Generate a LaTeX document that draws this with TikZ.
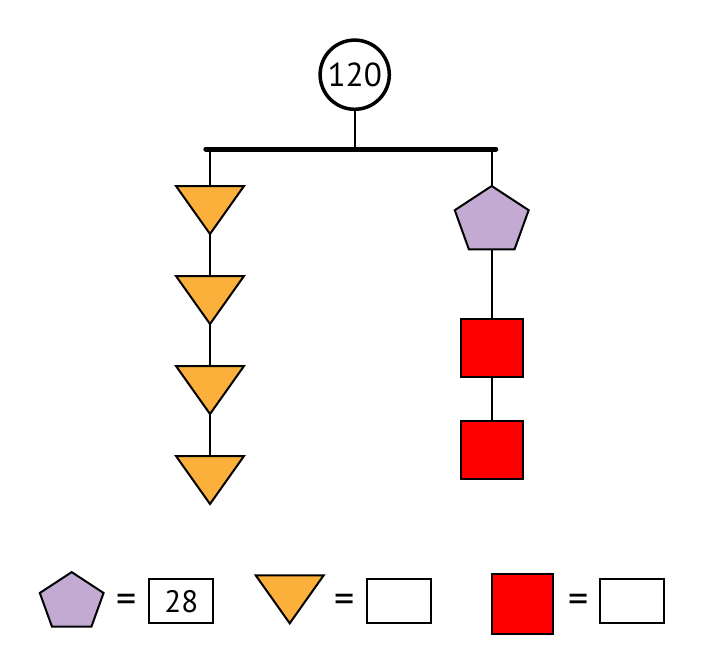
\documentclass[tikz,border=0pt]{standalone}
\usepackage{fontspec}
\setmainfont{PT Sans}
\usetikzlibrary{positioning}
\usetikzlibrary{shapes.geometric}
\definecolor{triorange}{RGB}{251,176,59}
\definecolor{pentlilac}{RGB}{194,170,210}
\definecolor{sqred}{RGB}{255,0,0}
\tikzset{
	node distance = 45pt,
	thread/.style = {line width=0.9pt},
	bar/.style = {line width=2.5pt, line cap=round},
	total/.style = {circle, draw, line width=1.75pt, minimum size=34.6pt,
		inner sep=0pt, font=\fontsize{16.6}{17}\selectfont},
	tri/.style = {isosceles triangle, isosceles triangle stretches,
		shape border rotate=-90, draw, line width=1pt, fill=triorange,
		inner sep=0pt, outer sep=0pt, minimum width=34pt, minimum height=24pt},
	pent/.style = {regular polygon, regular polygon sides=5, draw,
		line width=1pt, fill=pentlilac, inner sep=0pt, outer sep=0pt,
		xscale=1.11, transform shape},
	sq/.style = {rectangle, draw, line width=1pt, fill=sqred,
		inner sep=0pt, outer sep=0pt, minimum width=31pt, minimum height=29pt},
	ansbox/.style = {rectangle, draw, line width=1pt, fill=white, inner sep=0pt,
		minimum width=32pt, minimum height=22pt, font=\fontsize{15.5}{15.5}\selectfont},
	eq/.style = {inner sep=0pt, font=\fontsize{20}{20}\selectfont},
}

\begin{document}
\begin{tikzpicture}[x=0.5pt, y=-0.5pt]
	\useasboundingbox (0,0) rectangle (706,669);
	% mobile top
	\node (c) [total] at (354.7,74.7) {120};
	\coordinate (barL) at (205.8,149);
	\coordinate (barR) at (495.8,149);
	\coordinate (barM) at (354.7,149);
	\coordinate (hookL) at (210,149);
	\coordinate (hookR) at (491.7,149);
	\draw[bar] (barL) -- (barR);
	\path[thread] (c) edge (barM);
	% left string
	\node (t1) [tri, anchor=north] at (210,186) {};
	\node (t2) [tri, below of = t1] {};
	\node (t3) [tri, below of = t2] {};
	\node (t4) [tri, below of = t3] {};
	\path[thread] (hookL) edge (t1.north);
	\path[thread] (t1.south) edge (t2.north);
	\path[thread] (t2.south) edge (t3.north);
	\path[thread] (t3.south) edge (t4.north);
	% right string
	\node (p) [pent, minimum size=35pt] at (491.7,221) {};
	\node (s1) [sq] at (491.7,348.3) {};
	\node (s2) [sq, below of = s1, node distance = 50.9pt] {};
	\path[thread] (hookR) edge (p.corner 1);
	\path[thread] (p.south) edge (s1.north);
	\path[thread] (s1.south) edge (s2.north);
	% key
	\node (keyP) [pent, minimum size=30.2pt] at (71.7,602.3) {};
	\node (eqP) [eq] at (127,603) {=};
	\node (boxP) [ansbox] at (181.3,601.2) {28};
	\node (keyT) [tri, anchor=north] at (289.7,575.3) {};
	\node (eqT) [eq] at (344.5,603) {=};
	\node (boxT) [ansbox] at (398.7,601.2) {};
	\node (keyS) [sq, minimum width=30.5pt, minimum height=30pt] at (522.7,603.8) {};
	\node (eqS) [eq] at (578.3,603) {=};
	\node (boxS) [ansbox] at (632.3,601.2) {};
\end{tikzpicture}
\end{document}
